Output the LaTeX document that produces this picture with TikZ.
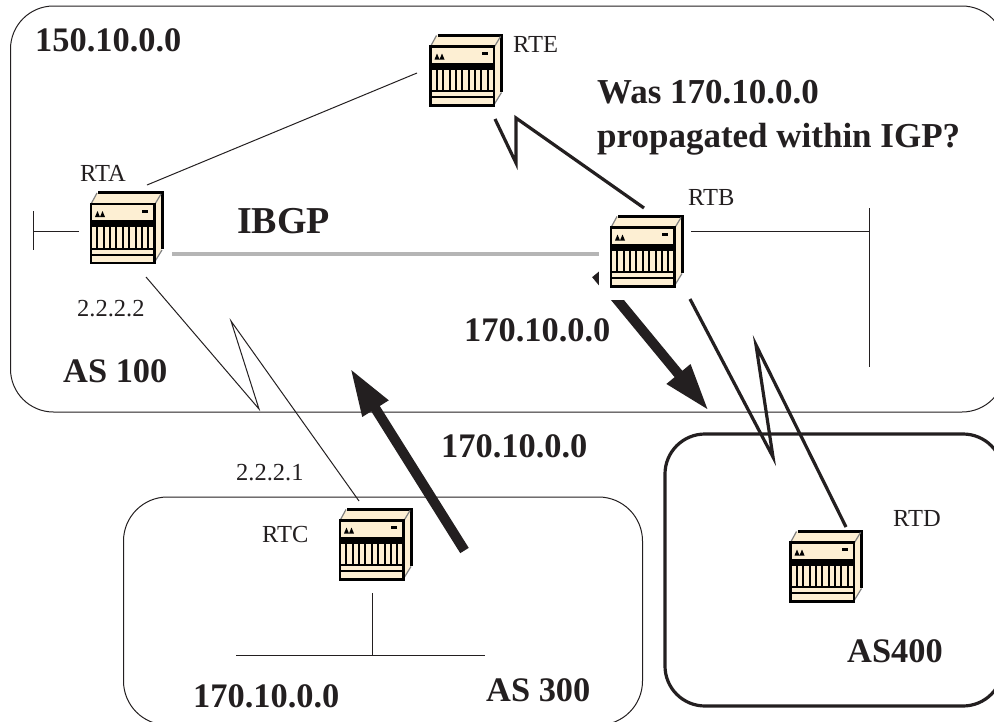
\documentclass[tikz,border=0pt]{standalone}
\usepackage{fontspec}
\setmainfont{Liberation Serif}
\usetikzlibrary{arrows.meta}
\definecolor{inkdark}{HTML}{231F20}
\definecolor{routercream}{HTML}{FDEFD3}
\definecolor{ibgpgray}{HTML}{B5B5B5}
\tikzset{
  routerart/.pic={
    \begin{scope}[shift={(-35.5,-35.5)},black]
      \fill[routercream] (6,1) -- (70,1) -- (70,58) -- (63,71) -- (0,71) -- (0,12) -- cycle;
      \draw[line width=3] (7,0.8) -- (71,0.8) -- (71,57);
      \draw[line width=1.2,gray] (6,1) -- (0,12) (71,58) -- (63,71) (64,12) -- (70,2);
      \draw[line width=2.4] (0,12) rectangle (63.5,71);
      \fill (4,25) -- (6.5,19) -- (9,25) -- (11.5,19) -- (14,25) -- cycle;
      \fill (51,17.5) rectangle (57,20.5);
      \fill (0,28) rectangle (63.5,35);
      \foreach \slotx in {6.4,12.7,19.1,25.4,31.8,38.1,44.5,50.8,57.2}
        \draw[line width=2] (\slotx,30) -- (\slotx,56);
      \draw[line width=2] (0,56.5) -- (63.5,56.5) (0,62.5) -- (63.5,62.5);
    \end{scope}
  },
  router/.style={inner sep=0pt,outer sep=0pt,minimum size=72pt},
  asbox/.style={draw=inkdark,line width=1pt},
  asheavy/.style={draw=inkdark,line width=3.2pt},
  thinlink/.style={draw=inkdark,line width=1pt},
  wanlink/.style={draw=inkdark,line width=3.2pt,miter limit=20},
  ibgplink/.style={draw=ibgpgray,line width=3.6pt},
  updatearrow/.style={draw=inkdark,line width=10pt,-{Triangle[length=48pt,width=28pt]}},
  smalltext/.style={anchor=base west,inner sep=0pt,text=inkdark,font=\fontsize{24.5}{24.5}\selectfont},
  bigtext/.style={anchor=base west,inner sep=0pt,text=inkdark,font=\fontsize{34.4}{34.4}\selectfont\bfseries},
  questiontext/.style={bigtext,font=\fontsize{35}{35}\selectfont\bfseries}
}
\begin{document}
\begin{tikzpicture}[x=1pt,y=-1pt]
        \useasboundingbox (0,0) rectangle (994,721);
        \clip (0,0) rectangle (994,721);
        \draw[asbox,rounded corners=43pt] (10.5,6) rectangle (1005,412);
        \draw[asbox,rounded corners=44pt] (123.5,497) rectangle (642.5,725);
        \draw[asheavy,rounded corners=40pt] (665,434) rectangle (1003,706);
        \coordinate (rtaeast) at (147,185);
        \coordinate (rtewest) at (417,73);
        \coordinate (rtastub) at (79,231);
        \coordinate (rtabar) at (33,231);
        \coordinate (rtabartop) at (33,211);
        \coordinate (rtabarbot) at (33,250);
        \coordinate (ibgpleft) at (172,254);
        \coordinate (ibgpright) at (599,254);
        \coordinate (rtbstub) at (691,231);
        \coordinate (rtbbar) at (869,231);
        \coordinate (rtbbartop) at (869,208);
        \coordinate (rtbbarbot) at (869,367);
        \coordinate (rtcstub) at (372,593);
        \coordinate (lanc) at (372,655);
        \coordinate (lancleft) at (236,655);
        \coordinate (lancright) at (485,655);
        \coordinate (wane1) at (495,119);
        \coordinate (wane2) at (516,163);
        \coordinate (wane3) at (516,118);
        \coordinate (wane4) at (644,208);
        \coordinate (wand1) at (690,299);
        \coordinate (wand2) at (773,457);
        \coordinate (wand3) at (756,345);
        \coordinate (wand4) at (846,527);
        \coordinate (wanc1) at (146,277);
        \coordinate (wanc2) at (259,409);
        \coordinate (wanc3) at (231,321);
        \coordinate (wanc4) at (359,501);
        \coordinate (advtail) at (596,274);
        \coordinate (advtip) at (709,411);
        \coordinate (learntail) at (464.5,550.5);
        \coordinate (learntip) at (350,368);
        \draw[thinlink] (rtaeast) -- (rtewest);
        \draw[thinlink] (rtastub) -- (rtabar) (rtabartop) -- (rtabarbot);
        \draw[thinlink] (rtbstub) -- (rtbbar) (rtbbartop) -- (rtbbarbot);
        \draw[thinlink] (rtcstub) -- (lanc) (lancleft) -- (lancright);
        \draw[ibgplink] (ibgpleft) -- (ibgpright);
        \draw[thinlink,miter limit=20] (wanc1) -- (wanc2) -- (wanc3) -- (wanc4);
        \draw[updatearrow] (advtail) -- (advtip);
        \draw[updatearrow] (learntail) -- (learntip);
        \fill[white] (599,262) rectangle (692,300);
        \draw[wanlink] (wane1) -- (wane2) -- (wane3) -- (wane4);
        \draw[wanlink] (wand1) -- (wand2) -- (wand3) -- (wand4);
        \node[router] at (126.5,227.5) (rta) {};
        \node[router] at (466,70) (rte) {};
        \node[router] at (646.5,251) (rtb) {};
        \node[router] at (375.5,544) (rtc) {};
        \node[router] at (826,566) (rtd) {};
        \pic at (rta) {routerart};
        \pic at (rte) {routerart};
        \pic at (rtb) {routerart};
        \pic at (rtc) {routerart};
        \pic at (rtd) {routerart};
        \node[bigtext] at (35,51) (net150) {150.10.0.0};
        \node[smalltext] at (513,52) (rtelabel) {RTE};
        \node[questiontext] at (597,103) (questiona) {Was 170.10.0.0};
        \node[questiontext] at (597,147.5) (questionb) {propagated within IGP?};
        \node[smalltext] at (80,181) (rtalabel) {RTA};
        \node[smalltext] at (688,205) (rtblabel) {RTB};
        \node[bigtext,font=\fontsize{38}{38}\selectfont\bfseries] at (237,233) (ibgplabel) {IBGP};
        \node[smalltext] at (77,316) (ipa) {2.2.2.2};
        \node[bigtext] at (63,382) (as100) {AS 100};
        \node[bigtext] at (464,341) (netb) {170.10.0.0};
        \node[bigtext] at (441,457) (netmid) {170.10.0.0};
        \node[smalltext] at (236,480) (ipc) {2.2.2.1};
        \node[smalltext] at (262,542) (rtclabel) {RTC};
        \node[smalltext] at (893,526) (rtdlabel) {RTD};
        \node[bigtext] at (847,662) (as400) {AS400};
        \node[bigtext] at (193,707) (netc) {170.10.0.0};
        \node[bigtext] at (486,701) (as300) {AS 300};
    \end{tikzpicture}
\end{document}
